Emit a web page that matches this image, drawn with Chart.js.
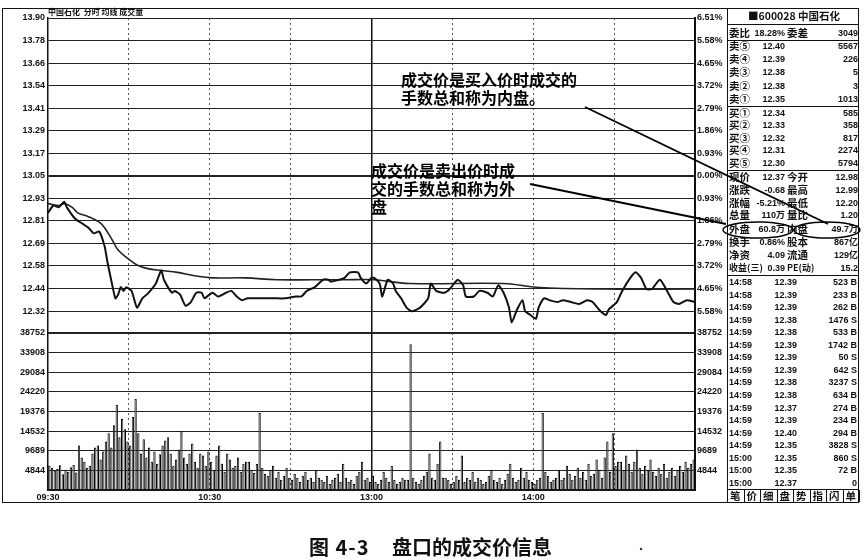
<!DOCTYPE html>
<html>
<head>
<meta charset="utf-8">
<script src="https://cdn.jsdelivr.net/npm/chart.js@4.4.1/dist/chart.umd.min.js"></script>
<style>
  body { margin: 0; width: 865px; height: 560px; background: #fff; position: relative; overflow: hidden;
         font-family: "Liberation Sans", "Noto Sans CJK SC", sans-serif; color: #111; }
  .abs { position: absolute; }
  #frame { left: 2px; top: 8px; width: 855px; height: 493px; border: 1.5px solid #111; }
  .txt { position: absolute; line-height: 14px; white-space: nowrap; font-weight: bold; }
  .cn { font-size: 10.5px; font-family: "Noto Sans CJK SC", sans-serif; }
  .num { font-size: 9px; }
  .sep { position: absolute; left: 727px; width: 132px; border-top: 1.5px solid #111; }
  .note { position: absolute; font-family: "Noto Sans CJK SC", sans-serif; font-weight: bold;
          font-size: 16px; line-height: 18px; color: #000; white-space: nowrap; }
  .cap { position: absolute; top: 532px; font-family: "Noto Sans CJK SC", sans-serif; font-size: 20px;
         font-weight: bold; color: #111; white-space: pre; }
</style>
</head>
<body>
<div id="frame" class="abs"></div>
<div class="abs" style="left:0;top:0;width:727px;height:342px;"><canvas id="priceChart"></canvas></div>
<div class="abs" style="left:0;top:320px;width:727px;height:185px;"><canvas id="volChart"></canvas></div>
<div class="abs" style="left:727px;top:9px;width:0;height:494px;border-left:1.5px solid #111;"></div>
<div class="txt" style="left:48px;top:5px;font-size:8px;font-family:'Noto Sans CJK SC';">中国石化 &nbsp;分时 均线 成交量</div>

<div class="note" style="left:401px;top:70px;">成交价是买入价时成交的<br>手数总和称为内盘。</div>
<div class="note" style="left:371px;top:161px;">成交价是卖出价时成<br>交的手数总和称为外<br>盘</div>

<svg class="abs" style="left:0;top:0;" width="865" height="560">
  <line x1="585" y1="107" x2="828" y2="224" stroke="#000" stroke-width="1.8"/>
  <line x1="530" y1="184" x2="726" y2="224" stroke="#000" stroke-width="1.8"/>
  <ellipse cx="758" cy="230" rx="35" ry="8" fill="none" stroke="#000" stroke-width="1.5"/>
  <ellipse cx="827" cy="230" rx="33" ry="8" fill="none" stroke="#000" stroke-width="1.5"/>
  <circle cx="641" cy="549" r="1.2" fill="#333"/>
</svg>

<div class="cap" style="left:309px;letter-spacing:1px;">图 4-3</div>
<div class="cap" style="left:392px;">盘口的成交价信息</div>

<script>
// 价格走势（分钟 / 价格）
const priceMinutes = [0, 2, 4, 6, 7, 10, 13, 15, 17, 19, 21, 22, 24, 25, 26, 27, 28, 29, 31, 33, 35, 37, 40, 42, 43, 46, 47, 49, 51, 53, 55, 57, 58, 61, 63, 66, 68, 70, 72, 74, 77, 79, 82, 84, 88, 92, 94, 96, 99, 102, 104, 105, 108, 110, 112, 115, 116, 118, 120,
  121, 123, 124, 126, 128, 129, 131, 133, 135, 138, 141, 142, 144, 147, 149, 152, 154, 155, 158, 160, 163, 165, 167, 169, 171, 172, 174, 176, 177, 179, 181, 182, 184, 186, 189, 191, 194, 197, 200, 202, 205, 207, 208, 211, 213, 216, 218, 220, 222, 224, 227, 230, 232, 234, 237, 240];
const priceValues = [12.85, 12.89, 12.88, 12.91, 12.88, 12.82, 12.79, 12.77, 12.74, 12.75, 12.67, 12.59, 12.45, 12.39, 12.41, 12.45, 12.43, 12.45, 12.43, 12.34, 12.39, 12.415, 12.47, 12.54, 12.49, 12.42, 12.43, 12.41, 12.35, 12.37, 12.42, 12.42, 12.39, 12.42, 12.40, 12.42, 12.43, 12.40, 12.38, 12.39, 12.39, 12.39, 12.39, 12.39, 12.39, 12.40, 12.40, 12.43, 12.45, 12.49, 12.49, 12.48, 12.49, 12.50, 12.53, 12.53, 12.50, 12.47, 12.50,
  12.50, 12.47, 12.40, 12.49, 12.47, 12.43, 12.39, 12.34, 12.32, 12.34, 12.39, 12.47, 12.43, 12.42, 12.44, 12.49, 12.46, 12.40, 12.40, 12.43, 12.42, 12.40, 12.46, 12.42, 12.34, 12.26, 12.33, 12.38, 12.32, 12.30, 12.28, 12.34, 12.39, 12.38, 12.37, 12.38, 12.37, 12.36, 12.38, 12.37, 12.32, 12.30, 12.33, 12.37, 12.43, 12.50, 12.53, 12.50, 12.44, 12.44, 12.49, 12.42, 12.37, 12.36, 12.38, 12.37];

// 均价线
const avgMinutes = [0, 4, 6, 9, 11, 15, 19, 21, 24, 26, 30, 33, 37, 42, 48, 55, 61, 73, 85, 98, 110, 121, 134, 169, 181, 206, 240];
const avgValues = [12.90, 12.89, 12.90, 12.88, 12.85, 12.83, 12.80, 12.77, 12.70, 12.65, 12.60, 12.57, 12.55, 12.54, 12.53, 12.51, 12.50, 12.50, 12.49, 12.49, 12.49, 12.49, 12.47, 12.47, 12.45, 12.44, 12.44];

// 每分钟成交量（手）
const volumes = [
  6000, 5500, 4800, 5200, 6100, 3900, 5000, 4500, 5600, 6200,
  4300, 11000, 8000, 7000, 5500, 6000, 9000, 10500, 11000, 7500,
  9500, 12000, 14000, 10500, 16000, 21000, 13000, 17500, 15000, 12000,
  11000, 18000, 22500, 14000, 9000, 12500, 8000, 10500, 7000, 9500,
  6500, 8800, 11000, 12200, 13000, 9000, 6000, 7500, 10000, 14500,
  8000, 6500, 9000, 11500, 7000, 5500, 9000, 8500, 6000, 9500,
  7000, 5000, 8500, 11000, 6500, 4500, 9000, 7500, 5500, 6000,
  8000, 4500, 6500, 7000, 7000, 5000, 4200, 6500, 19000, 5500,
  4000, 3500, 5000, 6000, 3000, 4500, 2500, 3500, 5500, 3000,
  2500, 4000, 3000, 2000, 3500, 4500, 2500, 3000, 2000, 5000,
  3000, 2500, 2000, 3500, 1500, 2500, 3000, 4000, 2000, 6500,
  3000, 2000, 2500, 1500, 3500, 4500, 7000, 2500, 3000, 2000,
  3500, 2000, 1500, 2500, 4500, 3000, 2000, 6000, 2500, 1500,
  2000, 3000, 2500, 2500, 36000, 3000, 2000, 1500, 2500, 3500,
  4500, 9000, 3000, 2500, 6500, 12000, 3000, 3000, 2500, 1500,
  2000, 3500, 2500, 8500, 2000, 3000, 2500, 4500, 2000, 3000,
  2500, 1500, 2000, 3500, 5000, 2500, 2000, 3000, 1500, 2500,
  4000, 6500, 3000, 2000, 2500, 5500, 3000, 4500, 2500, 2000,
  1500, 2500, 3000, 19000, 4500, 3500, 2000, 2500, 3000, 5000,
  2500, 3000, 6000, 4000, 2500, 3500, 5500, 3000, 4500, 2500,
  6500, 3500, 4000, 7500, 5000, 3000, 8000, 12000, 4500, 14000,
  6000, 7000, 7000, 5000, 8500, 6500, 4500, 7000, 10000, 5500,
  4000, 6000, 5000, 7500, 4500, 3500, 5500, 4000, 6500, 3000,
  4500, 5500, 3500, 5000, 6000, 4500, 7000, 5500, 6500, 7500
];

// 轴刻度文字（自上而下）
const priceTickLabels = ['13.90', '13.78', '13.66', '13.54', '13.41', '13.29', '13.17', '13.05', '12.93', '12.81', '12.69', '12.58', '12.44', '12.32', ''];
const pctTickLabels = ['6.51%', '5.58%', '4.65%', '3.72%', '2.79%', '1.86%', '0.93%', '0.00%', '0.93%', '1.86%', '2.79%', '3.72%', '4.65%', '5.58%', ''];
const volTickLabels = ['38752', '33908', '29084', '24220', '19376', '14532', '9689', '4844', ''];
const timeTicks = { 0: '09:30', 60: '10:30', 120: '13:00', 180: '14:00' };

const priceMin = 12.20, priceMax = 13.90, volMax = 38752;

Chart.defaults.font.family = '"Liberation Sans", "Noto Sans CJK SC", sans-serif';
Chart.defaults.color = '#111';
const tickFont = { size: 9, weight: 'bold' };

function evenTicks(min, max, n) {
  return (scale) => {
    const t = [];
    for (let i = 0; i <= n; i++) t.push({ value: min + (max - min) * i / n });
    scale.ticks = t;
  };
}
const halfHour = (scale) => { scale.ticks = [0, 30, 60, 90, 120, 150, 180, 210, 240].map(v => ({ value: v })); };
const dashColor = (c) => (c.tick && [0, 120, 240].includes(c.tick.value)) ? 'rgba(0,0,0,0)' : '#555';

const xGrid = {
  type: 'linear', min: 0, max: 240, offset: false,
  afterBuildTicks: halfHour,
  ticks: { display: false },
  grid: { color: dashColor, lineWidth: 1, drawTicks: false, offset: false },
  border: { display: false, dash: [2, 3] },
  afterFit: (s) => { s.height = 0; }
};
const xNoon = {
  type: 'linear', min: 0, max: 240, offset: false,
  afterBuildTicks: (scale) => { scale.ticks = [{ value: 120 }]; },
  ticks: { display: false },
  grid: { color: '#111', lineWidth: 1.5, drawTicks: false, offset: false },
  border: { display: false },
  afterFit: (s) => { s.height = 0; }
};

// 分时价格图
const ctx1 = document.getElementById('priceChart');
new Chart(ctx1, {
  type: 'line',
  data: {
    datasets: [{
      data: priceMinutes.map((m, i) => ({ x: m, y: priceValues[i] })),
      borderColor: '#111',
      borderWidth: 2,
      pointRadius: 0,
      tension: 0.2
    }, {
      data: avgMinutes.map((m, i) => ({ x: m, y: avgValues[i] })),
      borderColor: '#222',
      borderWidth: 1.6,
      pointRadius: 0,
      tension: 0.4
    }]
  },
  options: {
    animation: false,
    responsive: true,
    maintainAspectRatio: false,
    layout: { padding: { top: 18, bottom: 3, left: 0, right: 0 } },
    plugins: { legend: { display: false }, tooltip: { enabled: false } },
    scales: {
      x: xGrid,
      x2: xNoon,
      y: {
        position: 'left', min: priceMin, max: priceMax,
        afterBuildTicks: evenTicks(priceMin, priceMax, 14),
        afterFit: (s) => { s.width = 48; },
        ticks: { font: tickFont, padding: 3, callback: (v, i) => priceTickLabels[14 - i] },
        grid: { color: '#222', lineWidth: (c) => c.index === 7 ? 2 : 1, drawTicks: false },
        border: { color: '#111', width: 1.5 }
      },
      yr: {
        position: 'right', min: priceMin, max: priceMax,
        afterBuildTicks: evenTicks(priceMin, priceMax, 14),
        afterFit: (s) => { s.width = 32; },
        ticks: { font: tickFont, padding: 2, callback: (v, i) => pctTickLabels[14 - i] },
        grid: { display: false, drawTicks: false },
        border: { color: '#111', width: 2 }
      }
    }
  }
});

// 成交量柱状图
const ctx2 = document.getElementById('volChart');
new Chart(ctx2, {
  type: 'bar',
  data: {
    datasets: [{
      data: volumes.map((v, i) => ({ x: i + 0.5, y: v })),
      backgroundColor: '#fff',
      borderColor: '#000',
      borderWidth: 1,
      barPercentage: 1,
      categoryPercentage: 0.85
    }]
  },
  options: {
    animation: false,
    responsive: true,
    maintainAspectRatio: false,
    layout: { padding: { top: 13, bottom: 0, left: 0, right: 0 } },
    plugins: { legend: { display: false }, tooltip: { enabled: false } },
    scales: {
      x: {
        type: 'linear', min: 0, max: 240, offset: false,
        afterBuildTicks: halfHour,
        afterFit: (s) => { s.height = 15; },
        ticks: { font: tickFont, padding: 2, maxRotation: 0, autoSkip: false, callback: (v) => timeTicks[v] || '' },
        grid: { color: dashColor, lineWidth: 1, drawTicks: false, offset: false },
        border: { display: true, color: '#111', width: 1.5, dash: [2, 3] }
      },
      x2: xNoon,
      y: {
        position: 'left', min: 0, max: volMax,
        afterBuildTicks: evenTicks(0, volMax, 8),
        afterFit: (s) => { s.width = 48; },
        ticks: { font: tickFont, padding: 3, callback: (v, i) => volTickLabels[8 - i] },
        grid: { color: '#222', lineWidth: (c) => c.index === 8 ? 2 : 1, drawTicks: false },
        border: { color: '#111', width: 1.5 }
      },
      yr: {
        position: 'right', min: 0, max: volMax,
        afterBuildTicks: evenTicks(0, volMax, 8),
        afterFit: (s) => { s.width = 32; },
        ticks: { font: tickFont, padding: 2, callback: (v, i) => volTickLabels[8 - i] },
        grid: { display: false, drawTicks: false },
        border: { color: '#111', width: 2 }
      }
    }
  }
});

// 右侧盘口
const quoteRows = [
  ['委比', '18.28%', '委差', '3049'],
  ['卖⑤', '12.40', '', '5567'],
  ['卖④', '12.39', '', '226'],
  ['卖③', '12.38', '', '5'],
  ['卖②', '12.38', '', '3'],
  ['卖①', '12.35', '', '1013'],
  ['买①', '12.34', '', '585'],
  ['买②', '12.33', '', '358'],
  ['买③', '12.32', '', '817'],
  ['买④', '12.31', '', '2274'],
  ['买⑤', '12.30', '', '5794'],
  ['现价', '12.37', '今开', '12.98'],
  ['涨跌', '-0.68', '最高', '12.99'],
  ['涨幅', '-5.21%', '最低', '12.20'],
  ['总量', '110万', '量比', '1.20'],
  ['外盘', '60.8万', '内盘', '49.7万'],
  ['换手', '0.86%', '股本', '867亿'],
  ['净资', '4.09', '流通', '129亿'],
  ['收益(三)', '0.39', 'PE(动)', '15.2']
];
const tradeTimes = ['14:58', '14:58', '14:59', '14:59', '14:59', '14:59', '14:59', '14:59', '14:59', '14:59', '14:59', '14:59', '14:59', '14:59', '15:00', '15:00', '15:00'];
const tradePrices = ['12.39', '12.39', '12.39', '12.38', '12.38', '12.39', '12.39', '12.39', '12.38', '12.38', '12.37', '12.39', '12.40', '12.35', '12.35', '12.35', '12.37'];
const tradeVols = ['523 B', '233 B', '262 B', '1476 S', '533 B', '1742 B', '50 S', '642 S', '3237 S', '634 B', '274 B', '234 B', '294 B', '3828 S', '860 S', '72 B', '0'];
const tabs = ['笔', '价', '细', '盘', '势', '指', '闪', '单'];

function put(txt, x, y, cls, right, size) {
  const d = document.createElement('div');
  d.className = 'txt ' + cls;
  d.textContent = txt;
  d.style.top = (y - 7) + 'px';
  if (size) d.style.fontSize = size + 'px';
  if (right) d.style.right = (865 - x) + 'px'; else d.style.left = x + 'px';
  document.body.appendChild(d);
}
function sep(y) {
  const d = document.createElement('div');
  d.className = 'sep';
  d.style.top = y + 'px';
  document.body.appendChild(d);
}

put('■600028 中国石化', 748, 16, 'cn', false);
const rowY = [33, 46, 59, 72, 86, 99, 113, 125, 138, 150, 163, 177, 190, 203, 215, 229, 242, 255, 268];
quoteRows.forEach((r, i) => {
  const y = rowY[i];
  put(r[0], 729, y, 'cn', false, r[0].length > 2 ? 9 : 0);
  put(r[1], 785, y, 'num', true);
  if (r[2]) put(r[2], 787, y, 'cn', false, r[2].length > 2 ? 9 : 0);
  put(r[3], 858, y, 'num', true);
});
tradeTimes.forEach((t, i) => {
  const y = 282 + i * 12.56;
  put(t, 729, y, 'num', false);
  put(tradePrices[i], 797, y, 'num', true);
  put(tradeVols[i], 857, y, 'num', true);
});
[24, 40, 106, 170, 275, 489].forEach(sep);
tabs.forEach((t, i) => {
  const x = 727 + i * 16.5;
  put(t, x + 3, 496, 'cn', false);
  const v = document.createElement('div');
  v.className = 'abs';
  v.style.cssText = 'left:' + (x + 16.5) + 'px;top:490px;height:12px;border-left:1px solid #111;';
  document.body.appendChild(v);
});
</script>
</body>
</html>
